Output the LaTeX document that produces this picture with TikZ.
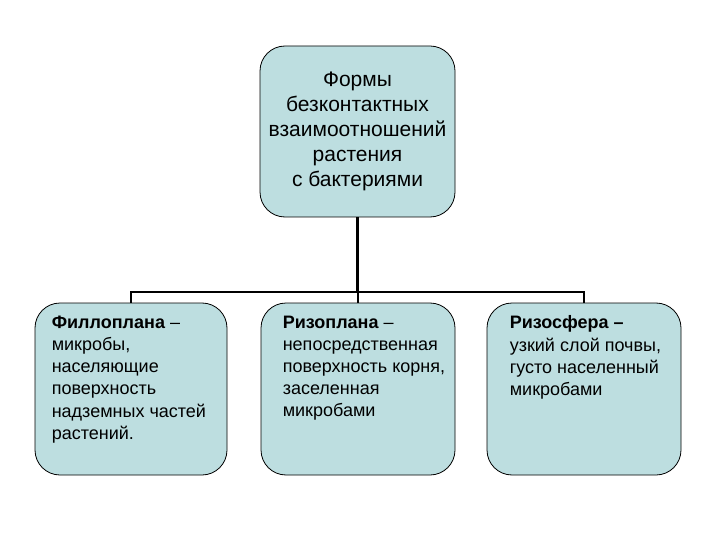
\documentclass[tikz,border=0pt]{standalone}
\usepackage{fontspec}
\setmainfont{Liberation Sans}
\definecolor{boxfill}{RGB}{189,222,224}
\begin{document}
\begin{tikzpicture}[
            x=1pt, y=-1pt,
            formbox/.style = {
                draw = black,
                line width = 0.8pt,
                fill = boxfill,
                rounded corners = 25pt,
                minimum width = 194pt,
                minimum height = 172pt,
                inner sep = 0pt
            },
            boxtext/.style = {
                anchor = north west,
                align = left,
                inner sep = 0pt,
                font = \fontsize{18}{22.2}\selectfont
            },
            conn/.style = {line width = 2.2pt}
        ]
            \useasboundingbox (0,0) rectangle (720,540);
            % top box
            \node[formbox, minimum width = 195pt, minimum height = 171pt,
                align = center, font = \fontsize{21}{25}\selectfont]
                (forms) at (357.5,131.5) {Формы\\безконтактных\\взаимоотношений\\растения\\с бактериями};
            % three kinds
            \node[formbox, minimum width = 192pt] (fillo) at (131,389) {};
            \node[formbox] (rizopl) at (358,389) {};
            \node[formbox] (rizosf) at (584,389) {};
            \node[boxtext] (fillotext) at ([xshift=17pt,yshift=-13pt]fillo.north west)
                {\textbf{Филлоплана} –\\микробы,\\населяющие\\поверхность\\надземных частей\\растений.};
            \node[boxtext] (rizopltext) at ([xshift=22pt,yshift=-13pt]rizopl.north west)
                {\textbf{Ризоплана} –\\непосредственная\\поверхность корня,\\заселенная\\микробами};
            \node[boxtext] (rizosftext) at ([xshift=23pt,yshift=-13pt]rizosf.north west)
                {\textbf{Ризосфера –}\\узкий слой почвы,\\густо населенный\\микробами};
            % connectors
            \coordinate (hub) at (357.5,292);
            \draw[conn, line width = 2.8pt] (forms.south) -- (hub);
            \draw[conn] (fillo.north) -- (fillo.north |- hub) -- (rizosf.north |- hub) -- (rizosf.north);
            \draw[conn] (rizopl.north) -- (rizopl.north |- hub);
        \end{tikzpicture}
\end{document}
